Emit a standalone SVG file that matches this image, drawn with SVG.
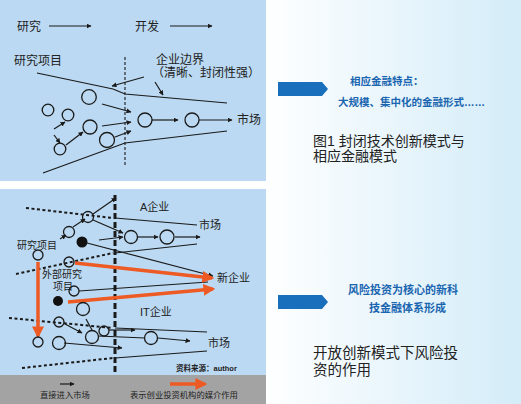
<svg xmlns="http://www.w3.org/2000/svg" width="521" height="404" viewBox="0 0 521 404">
<defs>
<linearGradient id="bg" x1="0" y1="0" x2="1" y2="0">
<stop offset="0" stop-color="#ffffff"/>
<stop offset="0.5" stop-color="#ffffff"/>
<stop offset="1" stop-color="#d3ecf8"/>
</linearGradient>
<marker id="ah" viewBox="0 0 10 10" refX="9" refY="5" markerWidth="5" markerHeight="5" markerUnits="userSpaceOnUse" orient="auto">
<path d="M0,0 L10,5 L0,10 z" fill="#1a1a1a"/>
</marker>
<marker id="oh" viewBox="0 0 10 10" refX="8" refY="5" markerWidth="12" markerHeight="12" markerUnits="userSpaceOnUse" orient="auto">
<path d="M0,0 L10,5 L0,10 z" fill="#ee5a24"/>
</marker>
<style>
text{font-family:"Liberation Sans","Noto Sans CJK SC",sans-serif;fill:#222}
.t12{font-size:12px}
.t11{font-size:11px}
.t10{font-size:10px}
.t8{font-size:8.3px}
.bl{font-weight:bold;fill:#1a65b0}
.ln{stroke:#1a1a1a;stroke-width:1.2;fill:none}
.ar{stroke:#1a1a1a;stroke-width:1.2;fill:none;marker-end:url(#ah)}
.c{stroke:#1a1a1a;stroke-width:1.3;fill:none}
.cf{fill:#111}
.dot{stroke:#1a1a1a;stroke-width:2;stroke-dasharray:3,2.5;fill:none}
.dv{stroke:#1a1a1a;stroke-width:3;stroke-dasharray:6,3;fill:none}
.or{stroke:#ee5a24;stroke-width:3.5;fill:none;marker-end:url(#oh)}
.big{font-size:14px}
</style>
</defs>
<rect x="0" y="0" width="521" height="404" fill="url(#bg)"/>
<rect x="0" y="0" width="266" height="181" fill="#bbd9f2"/>
<rect x="0" y="189" width="266" height="186" fill="#bbd9f2"/>
<rect x="0" y="375" width="266" height="29" fill="#a3a3a3"/>

<g id="top-panel-labels">
<text class="t12" x="17" y="31">研究</text>
<text class="t12" x="135" y="31">开发</text>
<text class="t12" x="14" y="65">研究项目</text>
<text class="t12" x="156" y="64">企业边界</text>
<text class="t12" x="152" y="77">（清晰、封闭性强）</text>
<text class="t12" x="237" y="124">市场</text>
</g>

<g id="connectors-top">
<line class="ar" x1="49" y1="26" x2="91" y2="26"/>
<line class="ar" x1="170" y1="26" x2="212" y2="26"/>
<line x1="125" y1="57" x2="125" y2="167" stroke="#1a1a1a" stroke-width="1.1" stroke-dasharray="3,2"/>
<polyline class="ln" points="37,73 113,89 125,94 227,103"/>
<polyline class="ln" points="43,173 125,143 227,131"/>
<line class="ar" x1="144" y1="77" x2="112" y2="86"/>
<line class="ar" x1="155" y1="82" x2="163" y2="95"/>
<line class="ar" x1="102" y1="104" x2="131" y2="112"/>
<line class="ar" x1="102" y1="126" x2="131" y2="122"/>
<line class="ar" x1="115" y1="137" x2="131" y2="131"/>
<line class="ar" x1="54" y1="129" x2="65" y2="122"/>
<line class="ar" x1="54" y1="135" x2="60" y2="143"/>
<line class="ar" x1="66" y1="145" x2="83" y2="132"/>
<line class="ar" x1="152" y1="120" x2="178" y2="120"/>
<line class="ar" x1="199" y1="120" x2="232" y2="120"/>
</g>

<g id="top-circles">
<circle class="c" cx="89" cy="97" r="7.3"/>
<circle class="c" cx="48" cy="110" r="5.8"/>
<circle class="c" cx="68" cy="115" r="5.8"/>
<circle class="c" cx="90" cy="127" r="7"/>
<circle class="c" cx="60" cy="149" r="5.8"/>
<circle class="c" cx="107" cy="140" r="7.5"/>
<circle class="c" cx="145" cy="120" r="7"/>
<circle class="c" cx="192" cy="120" r="7"/>
</g>

<g id="bottom-panel-labels">
<text class="t11" x="140" y="211">A企业</text>
<text class="t11" x="199" y="229">市场</text>
<text class="t11" x="217" y="282">新企业</text>
<text class="t11" x="140" y="316">IT企业</text>
<text class="t11" x="208" y="347">市场</text>
<text class="t10" x="17" y="249">研究项目</text>
<text class="t10" x="42" y="278">外部研究</text>
<text class="t10" x="53" y="290">项目</text>
<text x="176" y="371" font-weight="bold" style="font-size:7.5px">资料来源：author</text>
</g>

<g id="connectors-bottom">
<line class="dv" x1="115" y1="195" x2="115" y2="372"/>
<line class="dot" x1="26" y1="208" x2="113" y2="218"/>
<line class="ln" x1="115" y1="218" x2="197" y2="225"/>
<line class="dot" x1="16" y1="274" x2="113" y2="253"/>
<line class="ln" x1="115" y1="253" x2="197" y2="244"/>
<line class="dot" x1="9" y1="318" x2="113" y2="328"/>
<line class="ln" x1="115" y1="328" x2="207" y2="332"/>
<line class="dot" x1="22" y1="368" x2="113" y2="358"/>
<line class="ln" x1="115" y1="358" x2="207" y2="351"/>
<line class="ar" x1="93" y1="214" x2="116" y2="198"/>
<line class="ar" x1="93" y1="220" x2="123" y2="233"/>
<line class="ar" x1="60" y1="239" x2="66" y2="235"/>
<line class="ar" x1="73" y1="227" x2="85" y2="219"/>
<line class="ar" x1="99" y1="240" x2="123" y2="237"/>
<line class="ar" x1="138" y1="237" x2="158" y2="237"/>
<line class="ar" x1="175" y1="237" x2="200" y2="237"/>
<line class="ar" x1="87" y1="243" x2="213" y2="276"/>
<line class="ln" x1="79" y1="291" x2="208" y2="282"/>
<line class="ln" x1="86" y1="319" x2="92" y2="330"/>
<line class="ar" x1="65" y1="324" x2="82" y2="333"/>
<line class="ar" x1="109" y1="330" x2="135" y2="330"/>
<line class="ln" x1="98" y1="336" x2="145" y2="338"/>
<line class="ar" x1="158" y1="338" x2="190" y2="341"/>
<line class="ar" x1="64" y1="343" x2="122" y2="348"/>
<line class="or" x1="75" y1="263" x2="212" y2="278"/>
<line class="or" x1="68" y1="302" x2="213" y2="289"/>
<line class="or" x1="38" y1="262" x2="38" y2="336"/>
</g>

<g id="bottom-circles">
<circle class="c" cx="88" cy="217" r="5.5"/>
<circle class="c" cx="69" cy="232" r="5.5"/>
<circle class="cf" cx="82" cy="242" r="5.5"/>
<circle class="c" cx="131" cy="237" r="6.5"/>
<circle class="c" cx="167" cy="237" r="7"/>
<circle class="c" cx="38" cy="255" r="5"/>
<circle class="c" cx="69" cy="262" r="5"/>
<circle class="c" cx="74" cy="291" r="5"/>
<circle class="cf" cx="58" cy="301" r="5"/>
<circle class="c" cx="83" cy="309" r="6.5"/>
<circle class="c" cx="59" cy="322" r="5"/>
<circle class="c" cx="92" cy="337" r="6.5"/>
<circle class="c" cx="104" cy="331" r="5"/>
<circle class="c" cx="151" cy="338" r="6.5"/>
<circle class="c" cx="38" cy="342" r="5"/>
<circle class="c" cx="59" cy="343" r="6.5"/>
</g>

<g id="legend">
<line class="ar" x1="60" y1="384" x2="74" y2="384"/>
<text class="t8" x="40" y="398">直接进入市场</text>
<line class="or" x1="170" y1="384" x2="205" y2="384" stroke-width="4"/>
<text class="t8" x="130" y="398">表示创业投资机构的媒介作用</text>
</g>

<g id="right-top">
<path d="M278,82 L322,82 L328,89 L322,96 L278,96 z" fill="#1a6fbd"/>
<text class="bl" x="350" y="85" style="font-size:10.5px">相应金融特点：</text>
<text class="bl" x="338" y="106" style="font-size:10.5px">大规模、集中化的金融形式……</text>
<text class="big" x="313" y="146">图1 封闭技术创新模式与</text>
<text class="big" x="313" y="161">相应金融模式</text>
</g>

<g id="right-bottom">
<path d="M278,295 L322,295 L328,302 L322,309 L278,309 z" fill="#1a6fbd"/>
<text class="bl" x="348" y="294" style="font-size:11px">风险投资为核心的新科</text>
<text class="bl" x="369" y="312" style="font-size:11px">技金融体系形成</text>
<text x="313" y="358" style="font-size:14.5px">开放创新模式下风险投</text>
<text x="313" y="375" style="font-size:14.5px">资的作用</text>
</g>
</svg>
